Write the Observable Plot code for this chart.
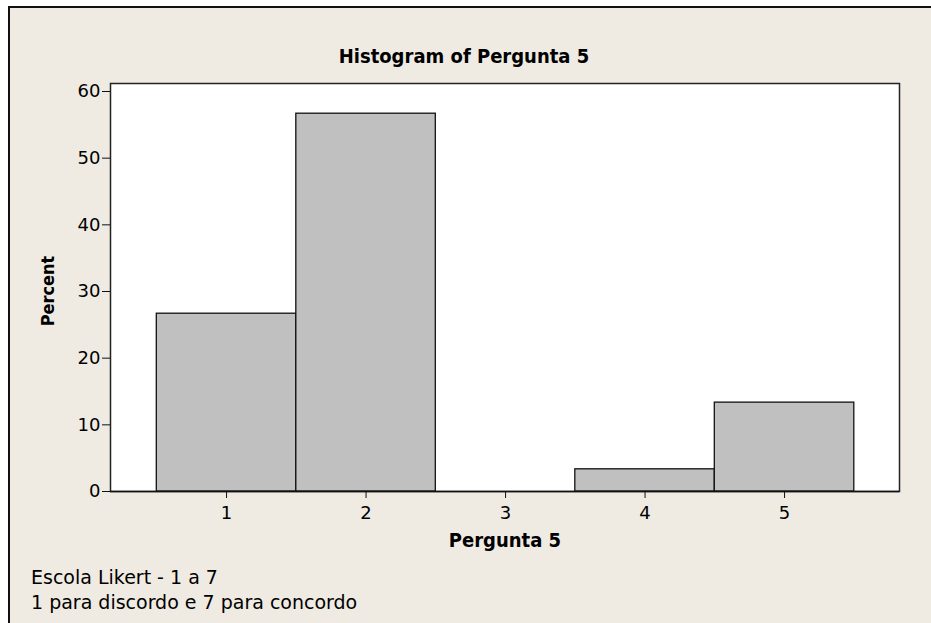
<!DOCTYPE html>
<html>
<head>
<meta charset="utf-8">
<script src="https://cdn.jsdelivr.net/npm/d3@7"></script>
<script src="https://cdn.jsdelivr.net/npm/@observablehq/plot@0.6"></script>
<style>
  html, body { margin: 0; padding: 0; background: #ffffff; width: 931px; height: 623px; overflow: hidden; }
  #panel { position: absolute; left: 8px; top: 6px; width: 960px; height: 660px; background: #EFEBE2;
           border-left: 2px solid #111; border-top: 2px solid #111; }
  #chart { position: absolute; left: 0; top: 0; }
  .t { position: absolute; font-family: "DejaVu Sans", Verdana, sans-serif; color: #000; white-space: nowrap; line-height: normal; }
  .b { font-family: "DejaVu Sans Condensed", "DejaVu Sans", sans-serif; font-weight: bold; }
  #title { font-size: 20px; left: 0; width: 928px; text-align: center; top: 44px; }
  #ylab { font-size: 18px; left: 47px; top: 291px; transform: translate(-50%,-50%) rotate(-90deg); }
  #xlab { font-size: 20px; left: 0; width: 1010px; text-align: center; top: 528px; }
  .note { font-size: 19px; left: 31px; }
</style>
</head>
<body>
<div id="panel"></div>
<div id="chart"></div>
<div class="t b" id="title">Histogram of Pergunta 5</div>
<div class="t b" id="ylab">Percent</div>
<div class="t b" id="xlab">Pergunta 5</div>
<div class="t note" style="top:566px">Escola Likert - 1 a 7</div>
<div class="t note" style="top:591px">1 para discordo e 7 para concordo</div>
<script>
const categories = [1, 2, 3, 4, 5];
const percents = [26.67, 56.67, 0, 3.33, 13.33];
const xTicks = [1, 2, 3, 4, 5];
const yTicks = [0, 10, 20, 30, 40, 50, 60];

const data = categories.map((c, i) => ({value: c, pct: percents[i]}));

const plot = Plot.plot({
  width: 931,
  height: 623,
  marginLeft: 110,
  marginRight: 32,
  marginTop: 83,
  marginBottom: 132,
  style: {background: "transparent", fontFamily: "DejaVu Sans, Verdana, sans-serif", fontSize: "18px", color: "#000"},
  x: {domain: [0.168, 5.824]},
  y: {domain: [0, 61.2]},
  marks: [
    Plot.frame({fill: "#ffffff", stroke: "#222", strokeWidth: 1.5}),
    Plot.rectY(data, {x1: d => d.value - 0.5, x2: d => d.value + 0.5, y: "pct",
      fill: "#C0C0C0", stroke: "#111", strokeWidth: 1.3}),
    Plot.ruleY([0], {stroke: "#111", strokeWidth: 1.5}),
    Plot.axisY({ticks: yTicks, tickSize: 8, tickPadding: 2, label: null, fontSize: 18, stroke: "#111"}),
    Plot.axisX({ticks: xTicks, tickFormat: "d", tickSize: 7, tickPadding: 8, label: null, fontSize: 18, stroke: "#111"})
  ]
});
document.getElementById("chart").appendChild(plot);
</script>
</body>
</html>
